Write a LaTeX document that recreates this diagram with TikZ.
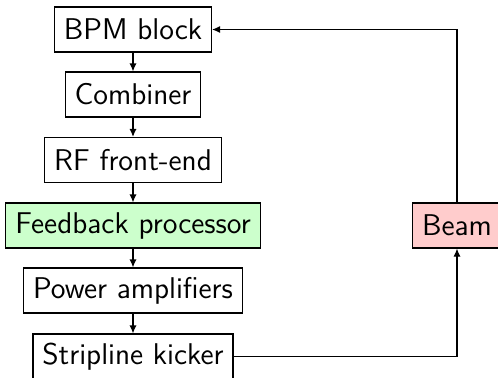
\documentclass[tikz,border=0pt]{standalone}
\usetikzlibrary{arrows.meta}
\begin{document}
\begin{tikzpicture}[x=0.5pt,y=-0.5pt,
  blk/.style={draw, line width=0.6pt, minimum height=22.5pt, inner xsep=4.7pt,
    font=\sffamily\fontsize{15pt}{17pt}\selectfont},
  conn/.style={line width=0.6pt, -{Latex[length=4pt,width=3.6pt]}}]
\useasboundingbox (0,0) rectangle (498,377);
\node[blk] (bpm) at (133,29.5) {BPM block};
\node[blk] (comb) at (133,94.5) {Combiner};
\node[blk] (rf) at (133,160) {RF front-end};
\node[blk, fill=green!20] (fb) at (133,225.5) {Feedback processor};
\node[blk] (pa) at (133,290.5) {Power amplifiers};
\node[blk] (sk) at (133,356.5) {Stripline kicker};
\node[blk, fill=red!20] (beam) at (457,225.5) {Beam};
\draw[conn] (bpm) -- (comb);
\draw[conn] (comb) -- (rf);
\draw[conn] (rf) -- (fb);
\draw[conn] (fb) -- (pa);
\draw[conn] (pa) -- (sk);
\draw[conn] (sk.east) -| (beam.south);
\draw[conn] (beam.north) |- (bpm.east);
\end{tikzpicture}
\end{document}
